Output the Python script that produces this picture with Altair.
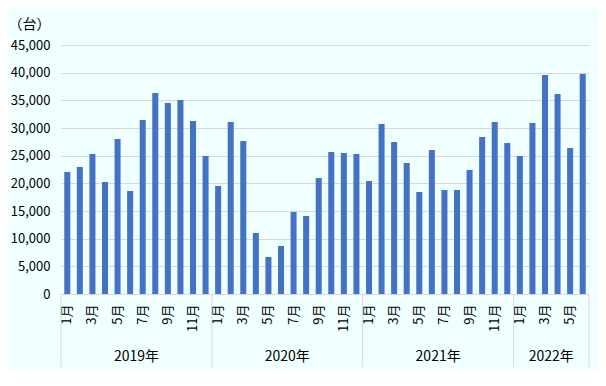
import altair as alt
import pandas as pd

years = ["2019", "2020", "2021", "2022"]
months_per_year = [12, 12, 12, 6]
values = [
    22050, 22950, 25300, 20240, 28010, 18620, 31450, 36330, 34520, 35060, 31270, 24940,
    19520, 31090, 27650, 11030, 6690, 8680, 14820, 14100, 20960, 25660, 25480, 25300,
    20420, 30720, 27470, 23680, 18430, 26020, 18800, 18800, 22410, 28370, 31090, 27290,
    24940, 30900, 39580, 36150, 26390, 39760,
]
year_labels = ["2019年", "2020年", "2021年", "2022年"]
year_label_keys = ["2019-07", "2020-07", "2021-07", "2022-04"]
separator_keys = ["2019-01", "2020-01", "2021-01", "2022-01"]
unit_label = "（台）"

keys = []
for y, n in zip(years, months_per_year):
    for m in range(1, n + 1):
        keys.append(f"{y}-{m:02d}")

df = pd.DataFrame({"key": keys, "value": values})
df_years = pd.DataFrame({"key": year_label_keys, "label": year_labels})
df_sep = pd.DataFrame({"key": separator_keys})
df_end = pd.DataFrame({"key": [keys[-1]]})

FONT = "Noto Sans CJK JP"
GRID = "#D9D9D9"
W, H = 528, 249

xscale = alt.Scale(domain=keys, paddingInner=0, paddingOuter=0)

label_expr = (
    "toNumber(split(datum.value,'-')[1]) % 2 == 1 ? "
    "toNumber(split(datum.value,'-')[1]) + '月' : ''"
)

bars = alt.Chart(df).mark_bar(
    color="#4472C4", width=alt.RelativeBandSize(0.48)
).encode(
    x=alt.X(
        "key:O",
        scale=xscale,
        sort=keys,
        axis=alt.Axis(
            title=None,
            labelExpr=label_expr,
            labelAngle=270,
            labelFontSize=13,
            labelFont=FONT,
            labelColor="#000000",
            labelPadding=10,
            ticks=False,
            domainColor=GRID,
            grid=False,
        ),
    ),
    y=alt.Y(
        "value:Q",
        scale=alt.Scale(domain=[0, 45000], nice=False),
        axis=alt.Axis(
            values=list(range(0, 45001, 5000)),
            format=",.0f",
            title=unit_label,
            titleAngle=0,
            titleAlign="center",
            titleBaseline="middle",
            titleX=-32,
            titleY=-21,
            titleFont=FONT,
            titleFontSize=14,
            titleFontWeight="normal",
            titleColor="#000000",
            labelFontSize=13,
            labelFont=FONT,
            labelColor="#000000",
            labelPadding=11,
            ticks=False,
            domain=False,
            gridColor=GRID,
            gridWidth=1,
        ),
    ),
)

year_text = alt.Chart(df_years).mark_text(
    font=FONT, fontSize=14, color="#000000", baseline="middle", align="center"
).encode(
    x=alt.X("key:O", scale=xscale, sort=keys, bandPosition=0),
    y=alt.value(H + 63),
    text="label:N",
)

seps = alt.Chart(df_sep).mark_rule(color=GRID, strokeWidth=1).encode(
    x=alt.X("key:O", scale=xscale, sort=keys, bandPosition=0),
    y=alt.value(H),
    y2=alt.value(H + 73),
)

end_sep = alt.Chart(df_end).mark_rule(color=GRID, strokeWidth=1).encode(
    x=alt.X("key:O", scale=xscale, sort=keys, bandPosition=1),
    y=alt.value(H),
    y2=alt.value(H + 73),
)

chart = alt.layer(bars, seps, end_sep, year_text).properties(
    width=W,
    height=H,
    background="#F0FFFF",
    autosize=alt.AutoSizeParams(type="none"),
    padding={"left": 53, "top": 37, "right": 9, "bottom": 76},
).configure_view(stroke=None)

chart.save("out.html", embed_options={"renderer": "svg", "actions": False})
